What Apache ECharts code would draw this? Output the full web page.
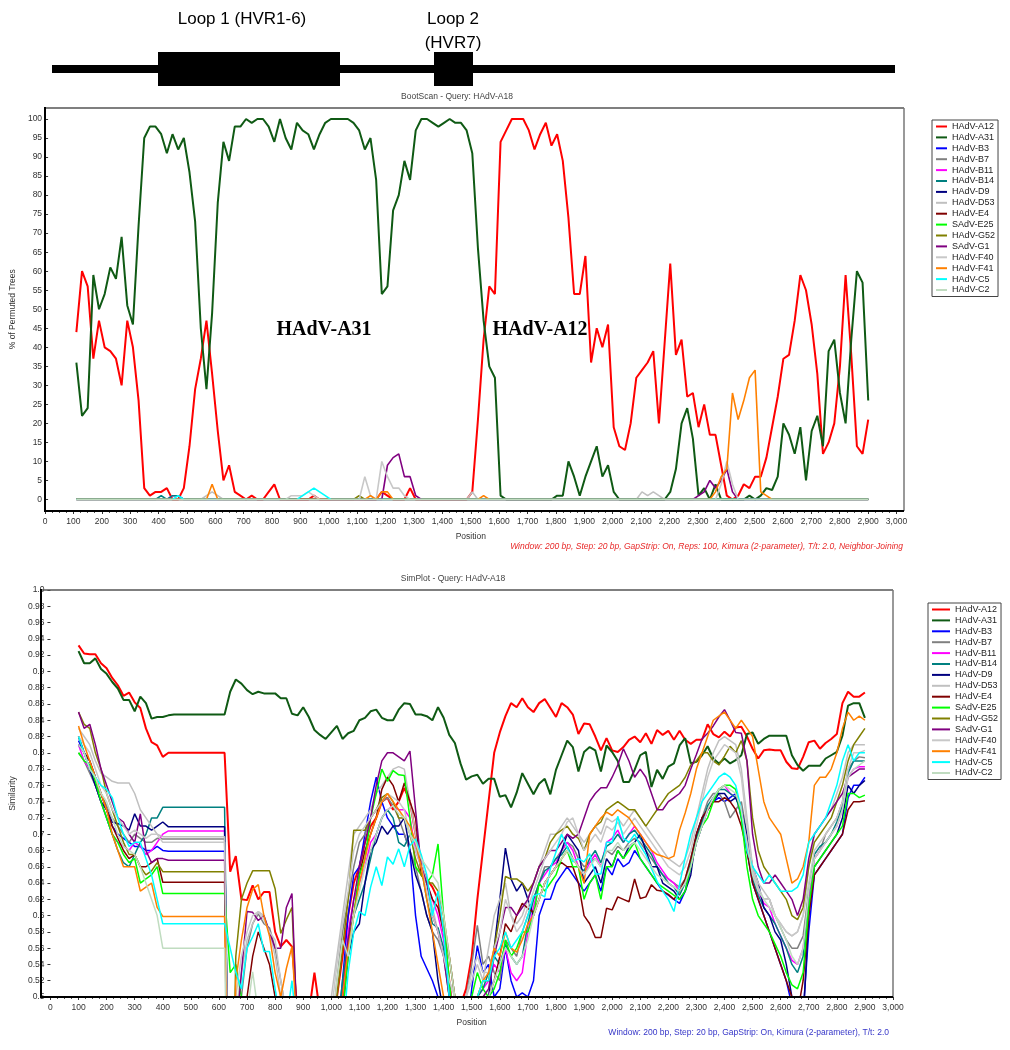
<!DOCTYPE html>
<html>
<head>
<meta charset="utf-8">
<script src="https://cdn.jsdelivr.net/npm/echarts@6/dist/echarts.min.js"></script>
<style>html,body{margin:0;padding:0;background:#fff}#chart{width:1010px;height:1050px}</style>
</head>
<body>
<div id="chart"></div>
<script>
// window midpoints (Window 200 bp, Step 20 bp)
const positions = [];
for (let p = 100; p <= 2900; p += 20) positions.push(p);

const names = ['HAdV-A12','HAdV-A31','HAdV-B3','HAdV-B7','HAdV-B11','HAdV-B14','HAdV-D9','HAdV-D53',
  'HAdV-E4','SAdV-E25','HAdV-G52','SAdV-G1','HAdV-F40','HAdV-F41','HAdV-C5','HAdV-C2'];
const colors = ['#ff0000','#0f5a14','#0000ff','#808080','#ff00ff','#008080','#000080','#c0c0c0',
  '#800000','#00ff00','#808000','#800080','#c8c8c8','#ff8000','#00ffff','#c0dcc0'];

// ---- BootScan (% of permuted trees) ----
const bootA12 = [
  44,60,56,37,47,40,39,37,30,47,
  40,26,3,1,2,2,3,0,0,3,
  14,29,37,47,33,18,5,9,2,1,
  0,1,0,0,2,4,0,0,0,0,
  0,0,1,0,0,0,0,0,0,0,
  0,0,0,0,2,1,0,0,0,3,
  0,0,0,0,0,0,0,0,0,0,
  2,21,42,56,54,94,97,100,100,100,
  97,92,96,99,93,96,89,74,54,54,
  64,36,45,40,46,19,14,13,20,32,
  34,36,39,20,41,62,38,42,27,28,
  19,25,17,17,9,1,0,1,4,3,
  6,6,11,19,27,37,38,47,59,55,
  46,33,12,15,20,35,59,38,14,12,
  21];
const bootA31 = [
  36,22,24,59,50,54,61,58,69,51,
  46,72,95,98,98,96,91,96,92,95,
  86,73,45,29,49,78,94,89,98,98,
  100,99,100,100,98,94,100,95,92,99,
  97,96,92,96,99,100,100,100,100,99,
  97,92,95,84,54,56,76,80,89,84,
  97,100,100,99,98,99,100,99,99,97,
  91,66,47,35,32,1,0,0,0,0,
  0,0,0,0,0,1,1,10,6,1,
  6,10,14,6,9,2,0,0,0,0,
  0,0,0,0,0,2,8,20,24,16,
  1,3,0,4,0,0,0,0,0,1,
  0,1,3,2.5,6,20,17,12,19,5,
  18,22,14,39,42,28,20,42,60,57,
  26];
// minor series: [position, value] where the value leaves zero
const bootB3  = [[100,0],[2900,0]];
const bootB7  = [[100,0],[2900,0]];
const bootB11 = [[100,0],[420,0],[440,1],[460,1],[480,0],[2900,0]];
const bootB14 = [[100,0],[380,0],[400,1],[420,0],[440,1],[460,1],[480,0],[2900,0]];
const bootD9  = [[100,0],[2900,0]];
const bootD53 = [[100,0],[540,0],[560,1],[580,2],[600,1],[620,0],[1480,0],[1500,2],[1520,0],[2080,0],[2100,2],[2120,1],[2140,2],[2160,1],[2180,0],[2900,0]];
const bootE4  = [[100,0],[2900,0]];
const bootE25 = [[100,0],[2900,0]];
const bootG52 = [[100,0],[1080,0],[1100,1],[1120,0],[2900,0]];
const bootG1  = [[100,0],[1180,0],[1200,9],[1220,11],[1240,12],[1260,6],[1280,6],[1300,1],[1320,0],[2280,0],[2300,1],[2320,2],[2340,5],[2360,3],[2380,5],[2400,8],[2420,2],[2440,0],[2900,0]];
const bootF40 = [[100,0],[840,0],[860,1],[900,1],[920,2],[940,1],[960,0],[1100,0],[1120,6],[1140,1],[1160,0],[1180,10],[1200,6],[1220,3],[1240,3],[1260,1],[1280,0],[2360,0],[2380,4],[2400,10],[2420,4],[2440,0],[2900,0]];
const bootF41 = [[100,0],[560,0],[580,4],[600,0],[1120,0],[1140,1],[1160,0],[1180,2],[1200,2],[1220,0],[1520,0],[1540,1],[1560,0],[2340,0],[2360,2],[2380,6],[2400,8],[2420,28],[2440,21],[2460,26],[2480,32],[2500,34],[2520,2],[2540,1],[2560,0],[2900,0]];
const bootC5  = [[100,0],[440,0],[460,1],[480,0],[880,0],[900,1],[920,2],[940,3],[960,2],[980,1],[1000,0],[2900,0]];
const bootC2  = [[100,0],[2900,0]];

// ---- SimPlot (similarity) ----
const simA12 = [
  .932,.922,.921,.921,.91,.904,.892,.883,.87,.874,
  .862,.855,.83,.813,.809,.795,.8,.8,.8,.8,
  .8,.8,.8,.8,.8,.8,.8,.654,.673,.62,
  .619,.637,.62,.629,.629,.58,.562,.57,.562,.48,
  .45,.48,.53,.48,.4,.45,.5,.55,.6,.64,
  .66,.69,.71,.72,.74,.745,.73,.74,.757,.74,
  .7,.66,.645,.635,.62,.58,.52,.46,.49,.51,
  .55,.62,.68,.74,.8,.825,.845,.861,.856,.867,
  .856,.85,.861,.866,.855,.844,.861,.856,.847,.823,
  .836,.835,.82,.803,.818,.803,.801,.807,.816,.82,
  .813,.824,.811,.828,.822,.827,.816,.827,.816,.811,
  .816,.816,.835,.823,.819,.826,.82,.831,.832,.82,
  .805,.793,.803,.804,.803,.803,.789,.781,.78,.795,
  .813,.815,.805,.812,.817,.823,.861,.875,.869,.869,
  .874];
const simA31 = [
  .925,.91,.91,.916,.903,.897,.887,.879,.865,.865,
  .851,.869,.861,.842,.844,.844,.846,.847,.847,.847,
  .847,.847,.847,.847,.847,.847,.847,.875,.89,.885,
  .877,.872,.875,.873,.873,.873,.867,.867,.848,.846,
  .856,.844,.828,.822,.817,.825,.833,.817,.824,.827,
  .84,.843,.851,.853,.843,.84,.84,.853,.861,.86,
  .847,.847,.845,.84,.856,.843,.822,.812,.787,.767,
  .771,.773,.762,.768,.768,.746,.748,.733,.751,.775,
  .762,.749,.762,.768,.749,.779,.797,.815,.807,.777,
  .801,.807,.803,.777,.809,.801,.79,.764,.764,.779,
  .797,.801,.758,.779,.768,.783,.787,.809,.818,.787,
  .789,.797,.808,.793,.787,.793,.787,.791,.797,.823,
  .825,.811,.817,.821,.821,.821,.821,.797,.785,.778,
  .784,.784,.784,.793,.797,.801,.821,.858,.861,.861,
  .843];
// minor series, rows: 100-420 | 440-620 | 640-880 | 900-1040 | 1060-1380 | 1400-1540 | 1560-2900
const simB3 = [
  .815,.80,.79,.77,.75,.73,.71,.70,.695,.69,.685,.685,.68,.68,.685,.68,.679,
  .679,.679,.679,.679,.679,.679,.679,.679,.679,.679,
  .2,.3,.3,.3,.3,.3,.3,.3,.3,.3,.3,.3,.3,
  .3,.3,.3,.3,.3,.3,.45,.52,
  .6,.65,.66,.7,.74,.77,.74,.72,.71,.7,.7,.68,.6,.55,.535,.52,.5,
  .45,.3,.3,.3,.45,.51,.563,.53,
  .54,.5,.51,.56,.52,.5,.505,.5,.52,.6,
  .62,.62,.64,.65,.66,.65,.64,.63,.64,.65,
  .63,.66,.65,.67,.66,.665,.68,.67,.66,.65,
  .64,.63,.625,.62,.615,.63,.66,.69,.71,.73,
  .74,.745,.74,.745,.75,.72,.68,.64,.62,.6,
  .58,.56,.54,.52,.49,.45,.48,.58,.65,.66,
  .67,.68,.69,.7,.745,.76,.76,.77];
const simB7 = [
  .80,.79,.775,.76,.75,.735,.72,.71,.70,.69,.70,.695,.69,.69,.695,.694,.694,
  .694,.694,.694,.694,.694,.694,.694,.694,.694,.694,
  .2,.45,.5,.56,.59,.602,.59,.585,.56,.52,.48,.45,.3,
  .3,.3,.3,.3,.3,.45,.52,.58,
  .62,.66,.69,.7,.72,.73,.74,.745,.735,.72,.7,.68,.66,.63,.6,.58,.57,
  .55,.5,.45,.3,.5,.54,.588,.54,
  .55,.53,.52,.57,.56,.55,.58,.6,.62,.64,
  .66,.66,.67,.68,.69,.685,.67,.66,.665,.67,
  .66,.68,.675,.685,.68,.69,.695,.69,.68,.67,
  .66,.65,.645,.64,.635,.645,.67,.7,.72,.74,
  .75,.75,.74,.72,.73,.74,.7,.65,.63,.62,
  .62,.6,.585,.57,.56,.56,.575,.63,.67,.68,
  .7,.71,.72,.74,.78,.79,.795,.794];
const simB11 = [
  .81,.79,.78,.76,.74,.72,.70,.69,.685,.68,.69,.685,.675,.68,.69,.70,.704,
  .704,.704,.704,.704,.704,.704,.704,.704,.704,.704,
  .2,.3,.3,.3,.3,.3,.3,.3,.3,.3,.3,.3,.3,
  .3,.3,.3,.3,.3,.3,.45,.5,
  .58,.62,.64,.66,.69,.7,.72,.73,.735,.73,.73,.72,.68,.66,.64,.62,.6,
  .57,.52,.45,.3,.3,.45,.5,.51,
  .52,.54,.53,.56,.53,.52,.53,.58,.61,.64,
  .65,.66,.665,.68,.69,.68,.66,.65,.665,.675,
  .66,.69,.695,.705,.69,.7,.71,.7,.69,.68,
  .665,.655,.645,.64,.63,.64,.66,.69,.71,.73,
  .74,.755,.76,.75,.745,.73,.69,.65,.63,.615,
  .61,.59,.575,.56,.545,.54,.56,.62,.67,.68,
  .69,.7,.71,.73,.77,.78,.783,.783];
const simB14 = [
  .82,.80,.78,.76,.74,.72,.70,.68,.665,.66,.675,.69,.70,.72,.72,.733,.733,
  .733,.733,.733,.733,.733,.733,.733,.733,.733,.733,
  .2,.3,.3,.3,.3,.3,.3,.3,.3,.3,.3,.3,.3,
  .3,.3,.3,.3,.3,.3,.45,.52,
  .57,.6,.62,.64,.67,.7,.72,.73,.72,.69,.685,.7,.69,.66,.62,.59,.585,
  .56,.5,.45,.3,.3,.45,.5,.51,
  .53,.55,.54,.565,.55,.54,.55,.59,.62,.64,
  .655,.66,.67,.675,.685,.67,.66,.655,.67,.68,
  .665,.685,.69,.7,.69,.7,.705,.695,.685,.675,
  .66,.65,.64,.635,.625,.64,.665,.695,.715,.735,
  .745,.755,.755,.75,.745,.725,.68,.645,.625,.61,
  .6,.59,.575,.56,.54,.53,.55,.63,.675,.685,
  .69,.7,.715,.735,.775,.79,.79,.79];
const simD9 = [
  .81,.80,.78,.76,.74,.73,.715,.713,.71,.705,.725,.71,.71,.705,.71,.715,.709,
  .709,.709,.709,.709,.709,.709,.709,.709,.709,.709,
  .2,.3,.3,.3,.3,.3,.3,.3,.3,.3,.3,.3,.3,
  .3,.3,.3,.3,.3,.3,.4,.48,
  .55,.58,.59,.64,.68,.69,.71,.70,.71,.71,.72,.68,.65,.63,.6,.58,.52,
  .48,.3,.3,.3,.3,.45,.5,.5,
  .5,.56,.62,.683,.645,.63,.64,.62,.6,.62,
  .64,.65,.66,.68,.7,.69,.68,.64,.65,.66,
  .64,.67,.66,.68,.67,.685,.69,.7,.68,.66,
  .66,.64,.635,.63,.62,.63,.65,.7,.72,.73,
  .74,.75,.75,.74,.745,.73,.7,.66,.64,.61,
  .6,.58,.57,.54,.5,.45,.47,.6,.66,.67,
  .68,.69,.7,.72,.76,.75,.76,.766];
const simD53 = [
  .83,.82,.81,.79,.775,.77,.765,.763,.763,.763,.75,.73,.72,.71,.70,.697,.697,
  .697,.697,.697,.697,.697,.697,.697,.697,.697,.697,
  .2,.48,.53,.57,.59,.605,.6,.58,.55,.5,.45,.3,.3,
  .3,.3,.3,.3,.45,.5,.55,.6,
  .65,.7,.71,.72,.73,.75,.76,.77,.78,.783,.78,.74,.7,.67,.64,.61,.58,
  .55,.52,.5,.45,.5,.52,.54,.52,
  .56,.6,.62,.64,.6,.59,.6,.62,.64,.66,
  .68,.7,.7,.71,.72,.71,.7,.69,.7,.71,
  .7,.72,.715,.72,.71,.72,.73,.72,.71,.7,
  .69,.68,.67,.665,.66,.67,.69,.72,.75,.78,
  .8,.815,.82,.815,.81,.78,.72,.66,.64,.63,
  .62,.6,.59,.58,.575,.58,.6,.66,.7,.71,
  .72,.73,.75,.77,.8,.81,.81,.81];
const simE4 = [
  .82,.80,.79,.77,.75,.73,.71,.695,.68,.67,.675,.66,.66,.665,.67,.641,.641,
  .641,.641,.641,.641,.641,.641,.641,.641,.641,.641,
  .2,.3,.45,.5,.55,.58,.56,.54,.5,.45,.3,.3,.3,
  .3,.3,.3,.3,.3,.3,.45,.5,
  .56,.6,.65,.68,.7,.72,.755,.77,.76,.74,.763,.74,.72,.65,.64,.62,.61,
  .58,.55,.5,.45,.3,.45,.48,.5,
  .5,.52,.55,.59,.58,.6,.615,.609,.604,.62,
  .64,.65,.66,.665,.66,.66,.64,.6,.59,.573,
  .573,.609,.607,.623,.62,.617,.645,.621,.623,.638,
  .631,.63,.626,.62,.63,.645,.67,.7,.72,.73,
  .74,.74,.745,.74,.73,.71,.68,.64,.62,.6,
  .58,.56,.54,.52,.5,.48,.52,.6,.65,.66,
  .67,.68,.69,.7,.73,.74,.74,.741];
const simE25 = [
  .80,.79,.785,.765,.74,.72,.70,.69,.675,.665,.67,.64,.645,.65,.66,.627,.627,
  .627,.627,.627,.627,.627,.627,.627,.627,.627,.627,
  .53,.54,.5,.45,.3,.3,.3,.3,.3,.3,.3,.3,.3,
  .3,.3,.3,.3,.3,.3,.4,.48,
  .55,.6,.65,.67,.72,.75,.78,.765,.778,.773,.772,.72,.66,.65,.64,.65,.688,
  .6,.52,.45,.3,.45,.5,.53,.51,
  .5,.51,.53,.57,.55,.56,.58,.58,.6,.64,
  .63,.64,.65,.67,.68,.66,.66,.62,.64,.65,
  .62,.66,.66,.68,.67,.68,.69,.67,.66,.65,
  .64,.635,.63,.625,.62,.63,.66,.69,.71,.72,
  .74,.755,.76,.76,.755,.72,.66,.62,.6,.59,
  .58,.565,.55,.53,.515,.51,.53,.61,.66,.67,
  .68,.69,.7,.71,.75,.75,.745,.748];
const simG52 = [
  .85,.835,.83,.80,.78,.75,.73,.71,.69,.675,.675,.66,.65,.655,.665,.654,.654,
  .654,.654,.654,.654,.654,.654,.654,.654,.654,.654,
  .2,.55,.62,.64,.655,.655,.655,.655,.633,.578,.595,.61,.45,
  .3,.3,.3,.3,.3,.42,.5,.56,
  .62,.705,.705,.705,.72,.73,.745,.75,.74,.72,.72,.7,.67,.65,.64,.64,.63,
  .6,.55,.5,.45,.3,.45,.5,.52,
  .52,.56,.6,.648,.645,.645,.64,.63,.64,.66,
  .67,.69,.7,.705,.71,.7,.695,.68,.7,.71,
  .715,.73,.735,.74,.735,.73,.73,.72,.71,.72,
  .73,.74,.75,.755,.76,.77,.785,.79,.8,.8,
  .79,.785,.796,.808,.8,.815,.79,.72,.68,.66,
  .65,.64,.63,.62,.6,.595,.61,.66,.69,.7,
  .71,.72,.74,.76,.79,.81,.82,.83];
const simG1 = [
  .85,.83,.835,.81,.78,.76,.74,.72,.715,.70,.69,.725,.68,.665,.67,.67,.668,
  .668,.668,.668,.668,.668,.668,.668,.668,.668,.668,
  .2,.45,.53,.605,.604,.594,.6,.58,.56,.56,.61,.627,.45,
  .3,.3,.3,.3,.3,.3,.45,.5,
  .57,.62,.66,.69,.72,.76,.79,.8,.8,.795,.79,.802,.73,.66,.64,.6,.58,
  .55,.5,.45,.3,.3,.3,.45,.5,
  .51,.55,.58,.61,.61,.6,.61,.62,.64,.66,
  .67,.68,.68,.69,.7,.695,.7,.72,.74,.75,
  .757,.757,.77,.785,.805,.79,.77,.78,.77,.75,
  .73,.73,.74,.745,.75,.76,.78,.798,.817,.824,
  .833,.844,.853,.84,.825,.824,.79,.7,.66,.64,
  .64,.65,.64,.63,.62,.6,.62,.67,.7,.71,
  .72,.73,.74,.75,.77,.775,.78,.78];
const simF40 = [
  .82,.81,.80,.78,.76,.75,.73,.72,.71,.70,.705,.70,.695,.70,.70,.69,.69,
  .69,.69,.69,.69,.69,.69,.69,.69,.69,.69,
  .2,.5,.55,.58,.6,.605,.595,.58,.57,.52,.48,.45,.3,
  .3,.3,.3,.3,.42,.48,.54,.59,
  .63,.68,.7,.71,.72,.73,.74,.75,.745,.74,.73,.7,.68,.66,.63,.6,.58,
  .55,.52,.5,.48,.5,.53,.55,.53,
  .53,.56,.58,.62,.6,.58,.59,.61,.63,.65,
  .67,.68,.69,.7,.715,.72,.7,.68,.69,.7,
  .69,.71,.705,.715,.7,.71,.72,.71,.7,.69,
  .68,.67,.66,.655,.65,.66,.68,.71,.74,.77,
  .79,.8,.81,.805,.8,.77,.71,.655,.635,.62,
  .62,.6,.59,.58,.575,.58,.6,.64,.68,.69,
  .7,.71,.72,.74,.78,.8,.8,.803];
const simF41 = [
  .833,.81,.79,.77,.75,.73,.70,.68,.66,.66,.66,.63,.635,.64,.61,.599,.599,
  .599,.599,.599,.599,.599,.599,.599,.599,.599,.599,
  .2,.52,.57,.61,.632,.638,.6,.575,.53,.5,.535,.562,.45,
  .3,.3,.3,.3,.3,.3,.45,.5,
  .56,.6,.64,.67,.7,.72,.74,.75,.74,.73,.72,.71,.69,.66,.62,.58,.54,
  .5,.45,.3,.3,.3,.45,.5,.52,
  .53,.56,.55,.58,.56,.555,.57,.59,.6,.62,
  .64,.65,.66,.67,.68,.67,.66,.64,.7,.71,
  .72,.727,.723,.73,.725,.72,.71,.7,.69,.68,
  .675,.673,.67,.673,.705,.726,.75,.78,.8,.82,
  .84,.845,.85,.84,.83,.84,.83,.82,.78,.74,
  .72,.71,.7,.67,.64,.645,.66,.69,.76,.77,
  .77,.78,.8,.83,.85,.84,.845,.84];
const simC5 = [
  .82,.80,.78,.77,.76,.755,.745,.72,.70,.685,.69,.69,.67,.65,.62,.59,.59,
  .59,.59,.59,.59,.59,.59,.59,.59,.59,.59,
  .56,.53,.51,.56,.574,.59,.556,.556,.51,.47,.47,.52,.45,
  .3,.3,.3,.3,.3,.3,.3,.45,
  .53,.58,.605,.6,.635,.66,.637,.672,.663,.682,.66,.686,.694,.675,.65,.6,.63,
  .58,.5,.45,.3,.3,.45,.5,.52,
  .52,.55,.56,.58,.56,.57,.58,.6,.624,.627,
  .623,.658,.678,.7,.684,.666,.67,.666,.676,.651,
  .651,.69,.69,.722,.695,.69,.7,.686,.675,.658,
  .642,.63,.62,.605,.638,.671,.7,.72,.74,.75,
  .76,.77,.775,.77,.76,.73,.68,.66,.65,.64,
  .65,.64,.63,.63,.63,.635,.65,.69,.7,.71,
  .72,.74,.76,.79,.81,.79,.8,.8];
const simC2 = [
  .81,.80,.78,.77,.75,.74,.72,.70,.685,.68,.675,.66,.64,.62,.60,.56,.56,
  .56,.56,.56,.56,.56,.56,.56,.56,.56,.56,
  .2,.3,.45,.48,.531,.48,.3,.3,.3,.3,.3,.3,.3,
  .3,.3,.3,.3,.3,.45,.52,.57,
  .55,.6,.63,.66,.68,.7,.72,.73,.735,.725,.72,.7,.69,.67,.66,.65,.64,
  .6,.55,.5,.45,.3,.3,.45,.5,
  .5,.52,.54,.56,.55,.54,.55,.57,.6,.62,
  .64,.65,.66,.67,.68,.67,.66,.65,.66,.67,
  .66,.68,.68,.69,.68,.685,.69,.68,.67,.66,
  .65,.645,.64,.635,.63,.64,.66,.69,.71,.73,
  .745,.755,.76,.755,.75,.73,.69,.65,.63,.62,
  .61,.6,.585,.57,.55,.54,.56,.63,.67,.68,
  .69,.7,.71,.73,.77,.78,.785,.79];

const bootData = [bootA12, bootA31, bootB3, bootB7, bootB11, bootB14, bootD9, bootD53,
  bootE4, bootE25, bootG52, bootG1, bootF40, bootF41, bootC5, bootC2];
const simData = [simA12, simA31, simB3, simB7, simB11, simB14, simD9, simD53,
  simE4, simE25, simG52, simG1, simF40, simF41, simC5, simC2];

simData.concat([bootA12, bootA31]).forEach(function (a, i) {
  if (a.length !== positions.length) throw new Error('length ' + i + ': ' + a.length);
});

function pairs(arr) {
  if (Array.isArray(arr[0])) return arr;
  return positions.map(function (p, i) { return [p, arr[i]]; });
}

const FONT = 'Liberation Sans';
const numFmt = function (v) { return v.toLocaleString('en-US'); };

const series = [];
names.forEach(function (n, i) {
  series.push({
    type: 'line', name: n, xAxisIndex: 0, yAxisIndex: 0,
    data: pairs(bootData[i]), showSymbol: false, symbol: 'none', animation: false,
    lineStyle: { color: colors[i], width: i < 2 ? 2 : 1.6 }, itemStyle: { color: colors[i] }
  });
});
names.forEach(function (n, i) {
  series.push({
    type: 'line', name: n, xAxisIndex: 1, yAxisIndex: 1,
    data: pairs(simData[i]), showSymbol: false, symbol: 'none', animation: false,
    lineStyle: { color: colors[i], width: i < 2 ? 2 : 1.5 }, itemStyle: { color: colors[i] }
  });
});

function legendBox(left, top, iconW) {
  return {
    orient: 'vertical', left: left, top: top, data: names, selectedMode: false,
    icon: 'rect', itemWidth: iconW, itemHeight: 2, itemGap: 1.9,
    padding: [2, 3, 2, 4], borderColor: '#444', borderWidth: 1, backgroundColor: '#fff',
    textStyle: { fontFamily: FONT, fontSize: 9, lineHeight: 9, color: '#222' }
  };
}

function hline(x1, y1, x2, y2, color, w) {
  return { type: 'line', silent: true, z: 50, shape: { x1: x1, y1: y1, x2: x2, y2: y2 }, style: { stroke: color, lineWidth: w } };
}
function label(x, y, text, opt) {
  return { type: 'text', silent: true, z: 60, x: x, y: y, style: Object.assign({
    text: text, fontFamily: FONT, fontSize: 9, fill: '#333', align: 'center', verticalAlign: 'middle' }, opt || {}) };
}

const axisLabelStyle = { fontFamily: FONT, fontSize: 8.5, color: '#333' };
const nameStyle = { fontFamily: FONT, fontSize: 8.5, color: '#333' };

function positionAxis(gridIndex) {
  return { type: 'value', gridIndex: gridIndex, min: 0, max: 3000, interval: 100,
    name: 'Position', nameLocation: 'middle', nameGap: 21, nameTextStyle: nameStyle,
    axisLine: { show: false },
    axisTick: { show: true, length: 3, lineStyle: { color: '#333' } },
    minorTick: { show: true, splitNumber: 4, length: 2, lineStyle: { color: '#555' } },
    axisLabel: Object.assign({ formatter: numFmt, margin: 6, interval: 0 }, axisLabelStyle),
    splitLine: { show: false } };
}

const option = {
  animation: false,
  backgroundColor: '#fff',
  grid: [
    { left: 45, right: 113.5, top: 119, bottom: 550.5 },   // BootScan plot (0..100)
    { left: 41, right: 117, top: 590, bottom: 53 },        // SimPlot plot
    { left: 45, right: 113.5, top: 510, bottom: 539 }      // BootScan position axis, sits on the frame
  ],
  xAxis: [
    { type: 'value', gridIndex: 0, min: 0, max: 3000, show: false },
    positionAxis(1),
    positionAxis(2)
  ],
  yAxis: [
    { type: 'value', gridIndex: 0, min: 0, max: 100, interval: 5,
      name: '% of Permuted Trees', nameLocation: 'middle', nameGap: 27, nameTextStyle: nameStyle,
      axisLine: { show: false },
      axisTick: { show: true, length: 3, lineStyle: { color: '#333' } },
      axisLabel: Object.assign({ margin: 6 }, axisLabelStyle),
      splitLine: { show: false } },
    { type: 'value', gridIndex: 1, min: 0.5, max: 1.0, interval: 0.02,
      name: 'Similarity', nameLocation: 'middle', nameGap: 28, nameTextStyle: nameStyle,
      axisLine: { show: false },
      axisTick: { show: true, length: 3, lineStyle: { color: '#333' } },
      axisLabel: Object.assign({ margin: 6, formatter: function (v) {
        return Math.abs(v - 1) < 1e-9 ? '1.0' : String(Math.round(v * 100) / 100); } }, axisLabelStyle),
      splitLine: { show: false } },
    { type: 'value', gridIndex: 2, min: 0, max: 1, show: false }
  ],
  legend: [legendBox(932, 120, 11), legendBox(928, 603, 18)],
  graphic: [
    // gene schematic
    { type: 'rect', silent: true, shape: { x: 52, y: 65, width: 843, height: 8 }, style: { fill: '#000' } },
    { type: 'rect', silent: true, shape: { x: 158, y: 52, width: 182, height: 34 }, style: { fill: '#000' } },
    { type: 'rect', silent: true, shape: { x: 434, y: 52, width: 39, height: 34 }, style: { fill: '#000' } },
    label(242, 19, 'Loop 1 (HVR1-6)', { fontSize: 17, fill: '#000' }),
    label(453, 19, 'Loop 2', { fontSize: 17, fill: '#000' }),
    label(453, 43, '(HVR7)', { fontSize: 17, fill: '#000' }),
    // BootScan frame
    hline(45, 108, 904, 108, '#555', 1.5),
    hline(904, 108, 904, 511, '#777', 1.5),
    hline(45, 107, 45, 512, '#000', 2),
    hline(44, 511, 904, 511, '#000', 2),
    label(457, 97, 'BootScan - Query: HAdV-A18', { fontSize: 8.5, fill: '#444' }),
    label(324, 330, 'HAdV-A31', { fontFamily: 'Liberation Serif', fontWeight: 'bold', fontSize: 20, fill: '#000' }),
    label(540, 330, 'HAdV-A12', { fontFamily: 'Liberation Serif', fontWeight: 'bold', fontSize: 20, fill: '#000' }),
    label(903, 547, 'Window: 200 bp, Step: 20 bp, GapStrip: On, Reps: 100, Kimura (2-parameter), T/t: 2.0, Neighbor-Joining',
      { fontSize: 8.5, fontStyle: 'italic', fill: '#e82828', align: 'right' }),
    // SimPlot frame
    hline(41, 590, 893, 590, '#555', 1.5),
    hline(893, 590, 893, 997, '#777', 1.5),
    hline(41, 589, 41, 998, '#000', 2),
    hline(40, 997, 893, 997, '#000', 2),
    label(453, 579, 'SimPlot - Query: HAdV-A18', { fontSize: 8.5, fill: '#444' }),
    label(889, 1033, 'Window: 200 bp, Step: 20 bp, GapStrip: On, Kimura (2-parameter), T/t: 2.0',
      { fontSize: 8.5, fill: '#3535c8', align: 'right' })
  ],
  series: series
};

const chart = echarts.init(document.getElementById('chart'), null, { renderer: 'canvas' });
chart.setOption(option);
</script>
</body>
</html>
